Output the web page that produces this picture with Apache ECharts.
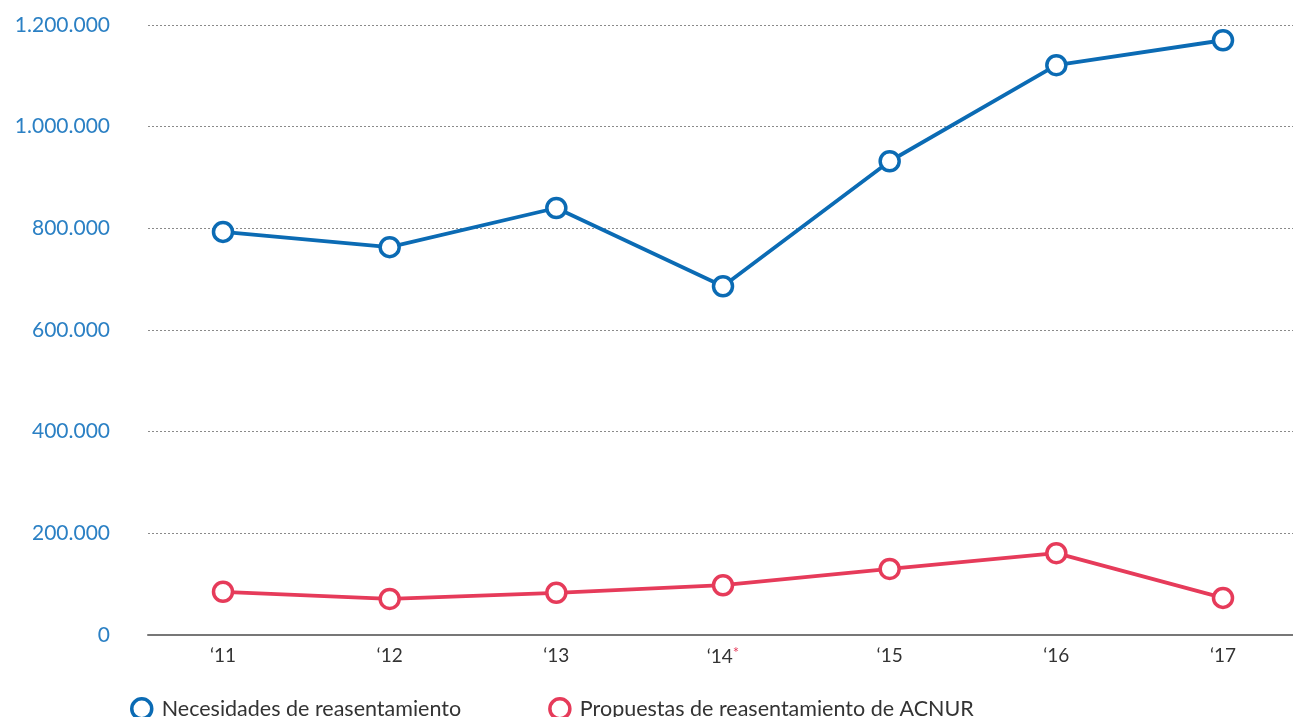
<!DOCTYPE html>
<html>
<head>
<meta charset="utf-8">
<script src="https://cdn.jsdelivr.net/npm/echarts@6/dist/echarts.min.js"></script>
<style>
  html, body { margin: 0; padding: 0; background: #fff; }
  #chart { width: 1293px; height: 717px; }
</style>
</head>
<body>
<div id="chart"></div>
<script>
// años (etiquetas del eje x)
var years = ['‘11', '‘12', '‘13', '‘14', '‘15', '‘16', '‘17'];
// Necesidades de reasentamiento
var needs = [793000, 763000, 840000, 686000, 932000, 1121000, 1170000];
// Propuestas de reasentamiento de ACNUR
var submissions = [85000, 71000, 83000, 98000, 130000, 161000, 73000];

var blue = '#0b6bb4';
var red = '#e63b5a';

function toPoints(arr) {
    return arr.map(function (v, i) { return [i, v]; });
}

function fmt(v) {
    return String(v).replace(/\B(?=(\d{3})+(?!\d))/g, '.');
}

var chart = echarts.init(document.getElementById('chart'));
chart.setOption({
    animation: false,
    textStyle: { fontFamily: 'Lato' },
    grid: { left: 148, right: 0, top: 25, bottom: 82, containLabel: false },
    legend: {
        left: 125,
        top: 692,
        itemWidth: 20,
        itemHeight: 20,
        itemGap: 87,
        icon: 'circle',
        textStyle: { color: '#333', fontSize: 21.5, fontFamily: 'Lato', padding: [0, 0, 0, 5] },
        data: [
            { name: 'Necesidades de reasentamiento', itemStyle: { color: '#fff', borderColor: blue, borderWidth: 3.5 } },
            { name: 'Propuestas de reasentamiento de ACNUR', itemStyle: { color: '#fff', borderColor: red, borderWidth: 3.5 } }
        ]
    },
    xAxis: {
        type: 'value',
        min: -0.45,
        max: 6.42,
        axisLine: { show: true, lineStyle: { color: '#777', width: 2 } },
        axisTick: { show: false },
        splitLine: { show: false },
        axisLabel: {
            customValues: [0, 1, 2, 3, 4, 5, 6],
            color: '#333',
            fontSize: 19,
            margin: 11,
            formatter: function (v) {
                var s = years[Math.round(v)];
                return Math.round(v) === 3 ? s + '{ast|*}' : s;
            },
            rich: {
                ast: { color: red, fontSize: 15, verticalAlign: 'top', padding: [0, 0, 6, 0] }
            }
        }
    },
    yAxis: {
        type: 'value',
        min: 0,
        max: 1200000,
        interval: 200000,
        axisLine: { show: false },
        axisTick: { show: false },
        splitLine: { lineStyle: { color: '#8a8a8a', type: [2, 2], width: 1 } },
        axisLabel: {
            color: '#2b80c4',
            fontSize: 21,
            margin: 38,
            formatter: function (v) { return fmt(v); }
        }
    },
    series: [
        {
            name: 'Necesidades de reasentamiento',
            type: 'line',
            data: toPoints(needs),
            symbol: 'circle',
            symbolSize: 19,
            lineStyle: { color: blue, width: 3.8 },
            itemStyle: { color: '#fff', borderColor: blue, borderWidth: 3.5 },
            z: 3
        },
        {
            name: 'Propuestas de reasentamiento de ACNUR',
            type: 'line',
            data: toPoints(submissions),
            symbol: 'circle',
            symbolSize: 19,
            lineStyle: { color: red, width: 3.8 },
            itemStyle: { color: '#fff', borderColor: red, borderWidth: 3.5 },
            z: 3
        }
    ]
});
</script>
</body>
</html>
